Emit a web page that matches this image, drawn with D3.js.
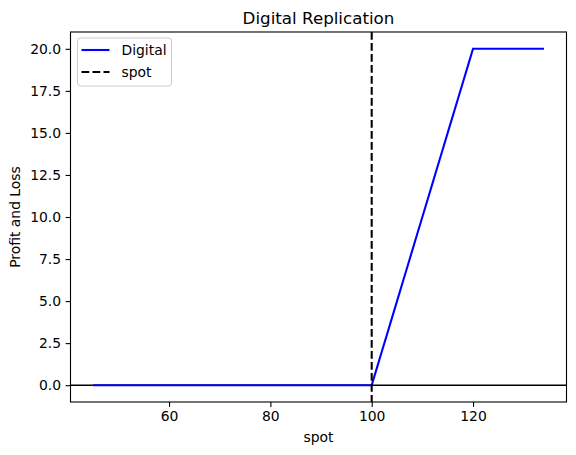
<!DOCTYPE html>
<html>
<head>
<meta charset="utf-8">
<script src="https://cdn.jsdelivr.net/npm/d3@7"></script>
<style>
body { margin: 0; background: #fff; }
text { font-family: "DejaVu Sans", sans-serif; fill: #000; }
</style>
</head>
<body>
<svg width="576" height="455"></svg>
<script>
// spot grid 45..134 and digital payoff (call spread 100/120 scaled)
var spots = d3.range(45, 135);
var strikeLow = 100, strikeHigh = 120, payout = 20;
var digital = spots.map(function(s){
	if (s <= strikeLow) return 0;
	if (s >= strikeHigh) return payout;
	return payout * (s - strikeLow) / (strikeHigh - strikeLow);
});
var spotLevel = 100;
var xTicks = [60, 80, 100, 120];
var yTicks = [0, 2.5, 5, 7.5, 10, 12.5, 15, 17.5, 20];

var margin = {top: 32, right: 9.5, bottom: 53, left: 70.5};
var width = 576 - margin.left - margin.right,
	height = 455 - margin.top - margin.bottom;

var svg = d3.select("svg");
var chart = svg.append("g")
	.attr("transform", "translate(" + margin.left + "," + margin.top + ")");

var xMin = d3.min(spots), xMax = d3.max(spots);
var xPad = (xMax - xMin) * 0.05;
var x = d3.scaleLinear().domain([xMin - xPad, xMax + xPad]).range([0, width]);
var yPad = payout * 0.05;
var y = d3.scaleLinear().domain([-yPad, payout + yPad]).range([height, 0]);

var xAxis = chart.append("g")
	.attr("transform", "translate(0," + height + ")")
	.call(d3.axisBottom(x).tickValues(xTicks).tickSize(4.9).tickPadding(4.5).tickFormat(d3.format("d")));
var yAxis = chart.append("g")
	.call(d3.axisLeft(y).tickValues(yTicks).tickSize(4.9).tickPadding(4.5).tickFormat(d3.format(".1f")));
[xAxis, yAxis].forEach(function(a){
	a.select(".domain").remove();
	a.selectAll("text").style("font-size", "13.9px").style("font-family", "DejaVu Sans");
	a.selectAll("line").attr("stroke", "#000").attr("stroke-width", 1.1);
});

// zero line
chart.append("line")
	.attr("x1", 0).attr("x2", width)
	.attr("y1", y(0)).attr("y2", y(0))
	.attr("stroke", "#000").attr("stroke-width", 1.4);

var line = d3.line()
	.x(function(d, i){ return x(spots[i]); })
	.y(function(d){ return y(d); });

chart.append("path")
	.datum(digital)
	.attr("fill", "none")
	.attr("stroke", "#0000ff")
	.attr("stroke-width", 2.08)
	.attr("d", line);

chart.append("line")
	.attr("x1", x(spotLevel)).attr("x2", x(spotLevel))
	.attr("y1", 0).attr("y2", height)
	.attr("stroke", "#000").attr("stroke-width", 2.08)
	.attr("stroke-dasharray", "7.7,3.3");

// frame
chart.append("rect")
	.attr("width", width).attr("height", height)
	.attr("fill", "none").attr("stroke", "#000").attr("stroke-width", 1.1);

// legend
var legend = chart.append("g").attr("transform", "translate(7,6)");
legend.append("rect")
	.attr("width", 94).attr("height", 48).attr("rx", 3)
	.attr("fill", "#fff").attr("fill-opacity", 0.8)
	.attr("stroke", "#cccccc").attr("stroke-width", 1);
var entries = [{label: "Digital", color: "#0000ff", dash: null},
	{label: "spot", color: "#000", dash: "7.7,3.3"}];
entries.forEach(function(e, i){
	var ly = 12 + i * 22;
	legend.append("line")
		.attr("x1", 4).attr("x2", 32).attr("y1", ly).attr("y2", ly)
		.attr("stroke", e.color).attr("stroke-width", 2.08)
		.attr("stroke-dasharray", e.dash);
	legend.append("text")
		.attr("x", 44).attr("y", ly + 5)
		.style("font-size", "13.9px")
		.text(e.label);
});

svg.append("text")
	.attr("x", margin.left + width / 2).attr("y", 24)
	.attr("text-anchor", "middle")
	.style("font-size", "16.7px")
	.text("Digital Replication");

svg.append("text")
	.attr("x", margin.left + width / 2).attr("y", 442)
	.attr("text-anchor", "middle")
	.style("font-size", "13.9px")
	.text("spot");

svg.append("text")
	.attr("transform", "translate(20," + (margin.top + height / 2) + ") rotate(-90)")
	.attr("text-anchor", "middle")
	.style("font-size", "13.9px")
	.text("Profit and Loss");
</script>
</body>
</html>
